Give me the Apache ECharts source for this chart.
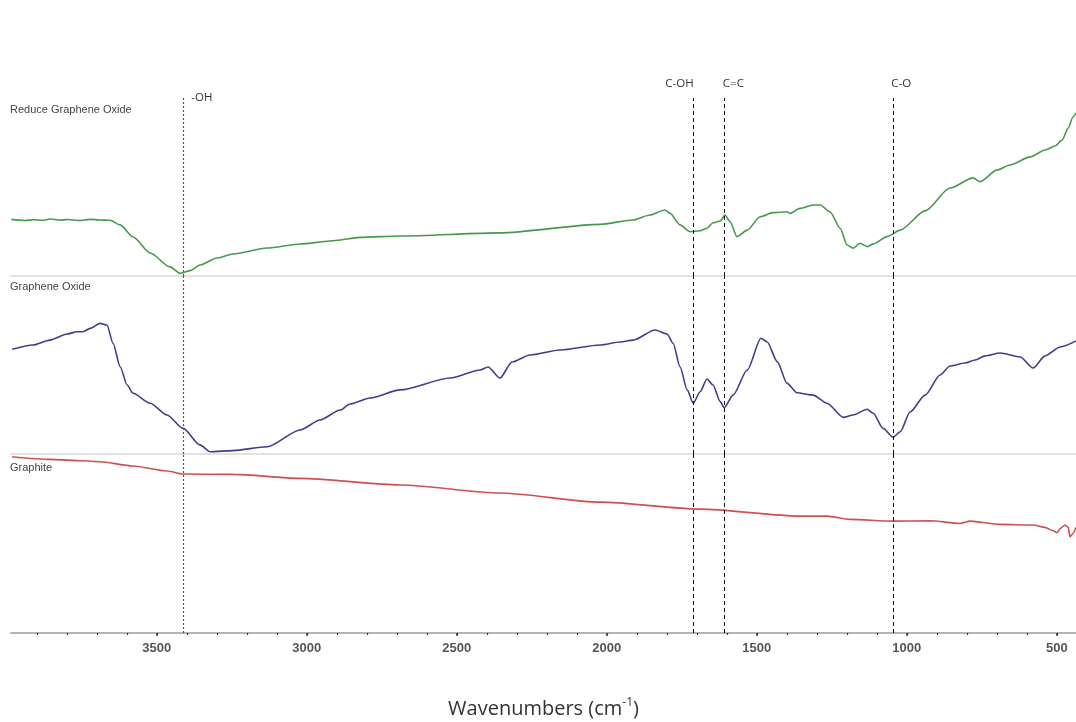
<!DOCTYPE html>
<html>
<head>
<meta charset="utf-8">
<script src="https://cdn.jsdelivr.net/npm/echarts@6/dist/echarts.min.js"></script>
<style>
html,body{margin:0;padding:0;background:#fff;}
#chart{width:1076px;height:722px;}
</style>
</head>
<body>
<div id="chart"></div>
<script>
// ---- data (wavenumber cm-1, relative transmittance in each panel, 0-100) ----
const majorTicks = [3500, 3000, 2500, 2000, 1500, 1000, 500];
const minorTicks = [3900, 3800, 3700, 3600, 3500, 3400, 3300, 3200, 3100, 3000, 2900, 2800, 2700, 2600, 2500, 2400, 2300, 2200, 2100, 2000, 1900, 1800, 1700, 1600, 1500, 1400, 1300, 1200, 1100, 1000, 900, 800, 700, 600, 500];
const panelNames = ['Reduce Graphene Oxide', 'Graphene Oxide', 'Graphite'];
const peakNames = ['-OH', 'C-OH', 'C=C', 'C-O'];
const peakWn = [3413, 1711, 1608, 1045];

const rgoWn = [3985, 3940, 3912, 3880, 3856, 3820, 3799, 3760, 3722, 3690, 3656, 3622, 3579, 3522, 3456, 3422, 3389, 3356, 3299, 3246, 3132, 3022, 2912, 2822, 2689, 2356, 2022, 1912, 1856, 1806, 1789, 1756, 1722, 1689, 1666, 1646, 1622, 1606, 1589, 1566, 1532, 1489, 1446, 1399, 1389, 1356, 1312, 1289, 1256, 1222, 1199, 1179, 1156, 1132, 1112, 1066, 1022, 939, 856, 779, 756, 699, 656, 589, 539, 506, 482, 462, 446, 436];
const rgoT  = [31.8, 31.2, 31.6, 31.3, 32.0, 31.4, 31.7, 31.2, 31.8, 31.5, 31.3, 28.7, 21.9, 12.9, 5.1, 1.5, 3.0, 6.2, 10.1, 12.4, 15.7, 18.0, 19.8, 21.7, 22.5, 24.2, 29.0, 31.5, 34.3, 37.1, 35.2, 28.7, 24.9, 25.4, 26.8, 29.9, 30.9, 34.3, 30.5, 22.1, 25.8, 33.3, 35.6, 36.1, 35.2, 38.0, 39.9, 39.9, 36.1, 26.8, 17.4, 15.6, 18.4, 16.5, 18.0, 22.1, 25.8, 36.6, 49.4, 55.1, 53.0, 59.6, 62.4, 66.9, 70.8, 73.0, 76.4, 83.1, 89.3, 91.6];

const goWn = [3982, 3912, 3856, 3799, 3766, 3746, 3722, 3689, 3666, 3646, 3622, 3599, 3579, 3522, 3466, 3412, 3356, 3322, 3246, 3132, 3022, 2956, 2889, 2856, 2789, 2689, 2522, 2422, 2396, 2356, 2316, 2256, 2156, 2022, 1956, 1912, 1839, 1799, 1779, 1756, 1732, 1712, 1689, 1666, 1646, 1622, 1609, 1579, 1532, 1486, 1466, 1432, 1399, 1366, 1312, 1266, 1212, 1179, 1132, 1112, 1079, 1046, 1022, 989, 939, 889, 856, 806, 772, 739, 689, 622, 579, 539, 489, 436];
const goT  = [58.8, 61.2, 64.0, 67.4, 68.7, 68.7, 70.6, 73.4, 72.5, 62.2, 49.0, 38.8, 34.1, 28.5, 21.9, 14.4, 5.1, 1.3, 1.9, 4.1, 13.5, 19.1, 24.7, 28.1, 31.5, 36.0, 42.7, 47.2, 48.9, 42.7, 51.7, 55.6, 58.4, 61.2, 62.9, 64.0, 69.7, 67.4, 62.2, 49.0, 36.0, 28.5, 35.0, 42.1, 38.8, 29.4, 26.0, 33.1, 47.2, 65.0, 63.1, 51.9, 39.7, 34.4, 33.1, 28.5, 20.6, 21.9, 25.1, 22.9, 14.4, 9.4, 12.5, 23.6, 33.1, 44.4, 49.4, 51.1, 52.8, 55.1, 56.7, 54.5, 48.3, 55.1, 60.1, 63.5];

const grWn = [3982, 3856, 3746, 3689, 3579, 3466, 3412, 3246, 3022, 2689, 2356, 2022, 1689, 1356, 1266, 1189, 1046, 922, 822, 789, 689, 579, 539, 512, 499, 489, 472, 462, 456, 446, 436];
const grT  = [98.5, 97.0, 96.2, 95.7, 93.3, 90.5, 88.8, 88.6, 86.4, 82.7, 78.2, 73.1, 69.2, 65.3, 65.3, 63.5, 62.5, 62.7, 61.2, 62.5, 60.7, 60.3, 59.0, 57.1, 56.0, 58.4, 60.3, 59.0, 53.7, 55.6, 59.0];

// ---- build ----
const zip = (a, b) => a.map((v, i) => [v, b[i]]);
const X_MIN = 436, X_MAX = 3986;
const LEFT = 11;
const grids = [
  {left: LEFT, right: 0, top: 98, height: 178},
  {left: LEFT, right: 0, top: 276, height: 178},
  {left: LEFT, right: 0, top: 454, height: 179}
];
const sepAxis = (i) => ({
  type: 'value', gridIndex: i, inverse: true, min: X_MIN, max: X_MAX, position: 'bottom',
  axisLine: {show: true, lineStyle: {color: '#e2e2e2', width: 2}},
  axisTick: {show: false}, axisLabel: {show: false}, splitLine: {show: false}
});
const xAxes = [
  sepAxis(0), sepAxis(1),
  {
    type: 'value', gridIndex: 2, inverse: true, min: X_MIN, max: X_MAX, position: 'bottom', offset: 0,
    axisLine: {show: true, lineStyle: {color: '#b4b4b4', width: 2}},
    axisTick: {show: true, customValues: minorTicks, length: 2, lineStyle: {color: '#333', width: 1.2}},
    axisLabel: {show: true, customValues: majorTicks, margin: 9, color: '#555',
      formatter: v => String(v),
      fontFamily: '"Liberation Sans Narrow", "Liberation Sans", Arial, sans-serif', fontSize: 13, fontWeight: 'bold'},
    splitLine: {show: false},
    name: 'Wavenumbers (cm{sup|-1})',
    nameLocation: 'middle', nameGap: 64,
    nameTextStyle: {fontFamily: '"Open Sans", "Noto Sans", sans-serif', fontSize: 20, color: '#333',
      rich: {sup: {fontSize: 12, verticalAlign: 'top', padding: [0, 0, 12, 0], fontFamily: '"Open Sans", sans-serif', color: '#333'}}}
  },
  {
    type: 'value', gridIndex: 2, inverse: true, min: X_MIN, max: X_MAX, position: 'bottom', offset: 0,
    axisLine: {show: false},
    axisTick: {show: true, customValues: majorTicks, length: 3, lineStyle: {color: '#333', width: 1.5}},
    axisLabel: {show: false}, splitLine: {show: false}
  }
];
const yAxes = [0, 1, 2].map(i => ({type: 'value', gridIndex: i, min: 0, max: 100, show: false}));

const dashLines = peakWn.map((w, i) => ({
  xAxis: w,
  lineStyle: i === 0 ? {type: [2, 2], color: '#555', width: 1.2} : {type: [4, 3], color: '#111', width: 1}
}));
const markLine = {silent: true, symbol: 'none', label: {show: false}, data: dashLines, animation: false};

const labelOffsets = [[19, 0], [-14, -14], [9, -14], [8, -14]];
const peakLabels = {
  silent: true, symbol: 'circle', symbolSize: 0, animation: false,
  data: peakWn.map((w, i) => ({
    coord: [w, 100],
    label: {show: true, position: 'inside', offset: labelOffsets[i], formatter: peakNames[i],
      fontFamily: '"Open Sans", "Noto Sans", sans-serif', fontSize: 11.5, color: '#333'}
  }))
};

const mkSeries = (name, data, color, idx, extra) => Object.assign({
  name, type: 'line', xAxisIndex: idx, yAxisIndex: idx, data,
  showSymbol: false, symbol: 'none', smooth: 0.25, smoothMonotone: 'x',
  lineStyle: {color, width: 1.6}, itemStyle: {color},
  markLine, z: 3
}, extra || {});

const series = [
  mkSeries(panelNames[0], zip(rgoWn, rgoT), '#45994a', 0, {markPoint: peakLabels}),
  mkSeries(panelNames[1], zip(goWn, goT), '#3d3f8e', 1),
  mkSeries(panelNames[2], zip(grWn, grT), '#d0504f', 2)
];

const nameStyle = {fontFamily: '"Liberation Sans", Arial, sans-serif', fontSize: 11, fontWeight: 'normal', color: '#444'};
const titles = [
  {text: panelNames[0], left: 10, top: 104, padding: 0, textStyle: nameStyle},
  {text: panelNames[1], left: 10, top: 281, padding: 0, textStyle: nameStyle},
  {text: panelNames[2], left: 10, top: 462, padding: 0, textStyle: nameStyle}
];

const chart = echarts.init(document.getElementById('chart'), null, {renderer: 'canvas'});
chart.setOption({
  animation: false,
  backgroundColor: '#ffffff',
  title: titles,
  grid: grids,
  xAxis: xAxes,
  yAxis: yAxes,
  series
});
</script>
</body>
</html>
